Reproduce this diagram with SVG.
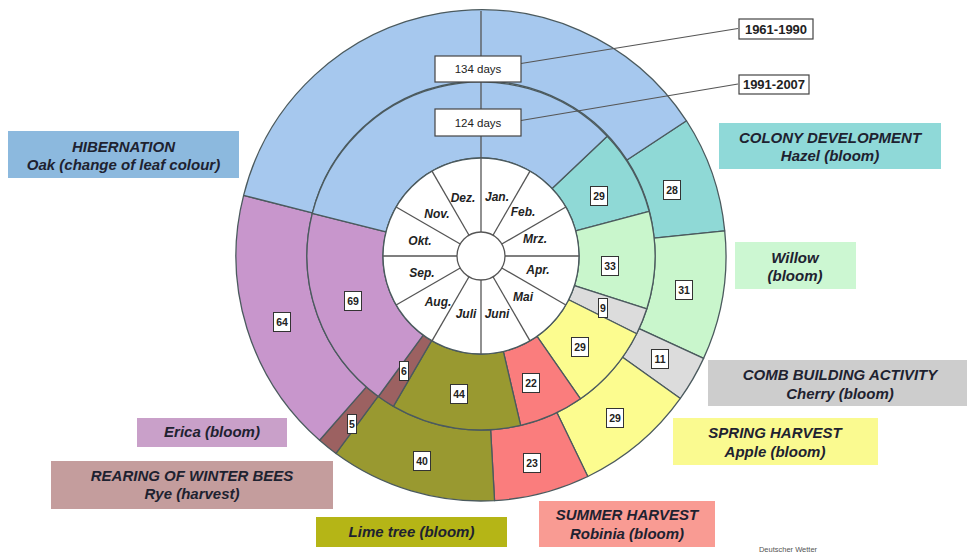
<svg xmlns="http://www.w3.org/2000/svg" width="967" height="554" viewBox="0 0 967 554">
<style>
.seg{stroke:#4b5a5e;stroke-width:1.3;stroke-linejoin:round}
.blue{fill:#a6c8ee}.teal{fill:#8fd9d6}.green{fill:#c9f6cc}.grey{fill:#dcdcdc}.yellow{fill:#fcfc8f}.red{fill:#fa7d7d}.olive{fill:#999930}.brown{fill:#9c6161}.pink{fill:#c896cc}
.mline{stroke:#555;stroke-width:1.3}
.mon{font-family:"Liberation Sans",Arial,sans-serif;font-size:12px;font-weight:bold;font-style:italic;fill:#222;text-anchor:middle}
.nb{fill:#fff;stroke:#333;stroke-width:1}
.nt{font-family:"Liberation Sans",Arial,sans-serif;font-size:10.5px;font-weight:bold;fill:#222;text-anchor:middle}
.lab{font-family:"Liberation Sans",Arial,sans-serif;font-size:15px;font-weight:bold;font-style:italic;fill:#1e2230;text-anchor:middle}
.yb{fill:#fff;stroke:#444;stroke-width:1.2}
.yt{font-family:"Liberation Sans",Arial,sans-serif;font-size:13px;font-weight:bold;fill:#222;text-anchor:middle}
.dt{font-family:"Liberation Sans",Arial,sans-serif;font-size:11.5px;fill:#222;text-anchor:middle}
.lead{stroke:#555;stroke-width:1.2;fill:none}
</style>
<rect width="967" height="554" fill="#fff"/>
<g id="ring-1961-1990">
<path id="o-teal" class="seg teal" d="M 686.47 120.77 A 245 245 0 0 1 724.71 230.90 L 654.08 238.17 A 174 174 0 0 0 626.93 159.96 Z"/>
<path id="o-green" class="seg green" d="M 724.71 230.90 A 245 245 0 0 1 703.58 358.38 L 639.08 328.71 A 174 174 0 0 0 654.08 238.17 Z"/>
<path id="o-grey" class="seg grey" d="M 703.58 358.38 A 245 245 0 0 1 680.34 398.44 L 622.57 357.16 A 174 174 0 0 0 639.08 328.71 Z"/>
<path id="o-yellow" class="seg yellow" d="M 680.34 398.44 A 245 245 0 0 1 587.82 476.49 L 556.87 412.59 A 174 174 0 0 0 622.57 357.16 Z"/>
<path id="o-red" class="seg red" d="M 587.82 476.49 A 245 245 0 0 1 494.55 500.63 L 490.62 429.73 A 174 174 0 0 0 556.87 412.59 Z"/>
<path id="o-olive" class="seg olive" d="M 494.55 500.63 A 245 245 0 0 1 336.01 453.49 L 378.03 396.26 A 174 174 0 0 0 490.62 429.73 Z"/>
<path id="o-brown" class="seg brown" d="M 336.01 453.49 A 245 245 0 0 1 319.58 440.30 L 366.36 386.89 A 174 174 0 0 0 378.03 396.26 Z"/>
<path id="o-pink" class="seg pink" d="M 319.58 440.30 A 245 245 0 0 1 243.62 195.36 L 312.41 212.93 A 174 174 0 0 0 366.36 386.89 Z"/>
<path id="o-blue" class="seg blue" d="M 243.62 195.36 A 245 245 0 0 1 686.47 120.77 L 626.93 159.96 A 174 174 0 0 0 312.41 212.93 Z"/>
</g>
<g id="ring-1991-2007">
<path id="m-teal" class="seg teal" d="M 607.21 136.23 A 174 174 0 0 1 649.15 211.26 L 575.71 230.80 A 98 98 0 0 0 552.09 188.54 Z"/>
<path id="m-green" class="seg green" d="M 649.15 211.26 A 174 174 0 0 1 646.81 308.76 L 574.39 285.71 A 98 98 0 0 0 575.71 230.80 Z"/>
<path id="m-grey" class="seg grey" d="M 646.81 308.76 A 174 174 0 0 1 636.68 333.72 L 568.68 299.77 A 98 98 0 0 0 574.39 285.71 Z"/>
<path id="m-yellow" class="seg yellow" d="M 636.68 333.72 A 174 174 0 0 1 580.48 398.76 L 537.03 336.41 A 98 98 0 0 0 568.68 299.77 Z"/>
<path id="m-red" class="seg red" d="M 580.48 398.76 A 174 174 0 0 1 520.64 425.42 L 503.33 351.42 A 98 98 0 0 0 537.03 336.41 Z"/>
<path id="m-olive" class="seg olive" d="M 520.64 425.42 A 174 174 0 0 1 393.40 406.34 L 431.66 340.67 A 98 98 0 0 0 503.33 351.42 Z"/>
<path id="m-brown" class="seg brown" d="M 393.40 406.34 A 174 174 0 0 1 378.36 396.50 L 423.19 335.13 A 98 98 0 0 0 431.66 340.67 Z"/>
<path id="m-pink" class="seg pink" d="M 378.36 396.50 A 174 174 0 0 1 312.32 213.32 L 385.99 231.96 A 98 98 0 0 0 423.19 335.13 Z"/>
<path id="m-blue" class="seg blue" d="M 312.32 213.32 A 174 174 0 0 1 607.21 136.23 L 552.09 188.54 A 98 98 0 0 0 385.99 231.96 Z"/>
</g>
<g id="months">
<circle cx="481" cy="256" r="98" fill="#fff" stroke="#4b5a5e" stroke-width="1.3"/>
<line class="mline" x1="481" y1="232" x2="481" y2="11"/>
<line class="mline" x1="493" y1="235.22" x2="530" y2="171.13"/>
<line class="mline" x1="501.78" y1="244" x2="565.87" y2="207"/>
<line class="mline" x1="505" y1="256" x2="579" y2="256"/>
<line class="mline" x1="501.78" y1="268" x2="565.87" y2="305"/>
<line class="mline" x1="493" y1="276.78" x2="530" y2="340.87"/>
<line class="mline" x1="481" y1="280" x2="481" y2="354"/>
<line class="mline" x1="469" y1="276.78" x2="432" y2="340.87"/>
<line class="mline" x1="460.22" y1="268" x2="396.13" y2="305"/>
<line class="mline" x1="457" y1="256" x2="383" y2="256"/>
<line class="mline" x1="460.22" y1="244" x2="396.13" y2="207"/>
<line class="mline" x1="469" y1="235.22" x2="432" y2="171.13"/>
<circle cx="481" cy="256" r="24" fill="#fff" stroke="#555" stroke-width="1.3"/>
<text class="mon" x="463" y="202">Dez.</text>
<text class="mon" x="497" y="201">Jan.</text>
<text class="mon" x="523" y="216">Feb.</text>
<text class="mon" x="535" y="243">Mrz.</text>
<text class="mon" x="538" y="274">Apr.</text>
<text class="mon" x="523" y="301">Mai</text>
<text class="mon" x="497" y="318">Juni</text>
<text class="mon" x="466" y="318">Juli</text>
<text class="mon" x="438" y="306">Aug.</text>
<text class="mon" x="422" y="277">Sep.</text>
<text class="mon" x="420" y="245">Okt.</text>
<text class="mon" x="437" y="218">Nov.</text>
</g>
<g id="connectors">
<line class="lead" x1="521" y1="63.5" x2="738" y2="28.5"/>
<line class="lead" x1="521" y1="120.5" x2="738" y2="84"/>
</g>
<g id="days-134">
<rect class="yb" x="435" y="56" width="86" height="26"/>
<text class="dt" x="478" y="73">134 days</text>
</g>
<g id="days-124">
<rect class="yb" x="435" y="109" width="86" height="27"/>
<text class="dt" x="478" y="126.5">124 days</text>
</g>
<g id="period-1961-1990">
<rect class="yb" x="739" y="19" width="74" height="20"/>
<text class="yt" x="776" y="33.5">1961-1990</text>
</g>
<g id="period-1991-2007">
<rect class="yb" x="739" y="75" width="70" height="19"/>
<text class="yt" x="774" y="89">1991-2007</text>
</g>
<g id="numbers">
<rect class="nb" x="590.5" y="186.5" width="17" height="19"/><text class="nt" x="599" y="199.5">29</text>
<rect class="nb" x="601.5" y="256.5" width="17" height="19"/><text class="nt" x="610" y="269.5">33</text>
<rect class="nb" x="598.5" y="298.5" width="9" height="19"/><text class="nt" x="603" y="311.5">9</text>
<rect class="nb" x="571.5" y="337.5" width="17" height="19"/><text class="nt" x="580" y="350.5">29</text>
<rect class="nb" x="522.5" y="373.5" width="17" height="19"/><text class="nt" x="531" y="386.5">22</text>
<rect class="nb" x="450.5" y="384.5" width="17" height="19"/><text class="nt" x="459" y="397.5">44</text>
<rect class="nb" x="399.5" y="361.5" width="9" height="19"/><text class="nt" x="404" y="374.5">6</text>
<rect class="nb" x="344.5" y="291.5" width="17" height="19"/><text class="nt" x="353" y="304.5">69</text>
<rect class="nb" x="663.5" y="180.5" width="17" height="19"/><text class="nt" x="672" y="193.5">28</text>
<rect class="nb" x="675.5" y="280.5" width="17" height="19"/><text class="nt" x="684" y="293.5">31</text>
<rect class="nb" x="651.5" y="349.5" width="17" height="19"/><text class="nt" x="660" y="362.5">11</text>
<rect class="nb" x="606.5" y="408.5" width="17" height="19"/><text class="nt" x="615" y="421.5">29</text>
<rect class="nb" x="523.5" y="453.5" width="17" height="19"/><text class="nt" x="532" y="466.5">23</text>
<rect class="nb" x="413.5" y="451.5" width="17" height="19"/><text class="nt" x="422" y="464.5">40</text>
<rect class="nb" x="347.5" y="414.5" width="9" height="19"/><text class="nt" x="352" y="427.5">5</text>
<rect class="nb" x="273.5" y="312.5" width="17" height="19"/><text class="nt" x="282" y="325.5">64</text>
</g>
<g id="label-hibernation">
<rect x="8" y="131" width="231" height="47" fill="#8cb9de"/>
<text class="lab" x="123.5" y="152">HIBERNATION</text>
<text class="lab" x="123.5" y="170">Oak (change of leaf colour)</text>
</g>
<g id="label-colony">
<rect x="719" y="123" width="222" height="46" fill="#8fd9d8"/>
<text class="lab" x="830" y="143">COLONY DEVELOPMENT</text>
<text class="lab" x="830" y="161">Hazel (bloom)</text>
</g>
<g id="label-willow">
<rect x="735" y="242" width="121" height="47" fill="#ccf7d2"/>
<text class="lab" x="795" y="263">Willow</text>
<text class="lab" x="795" y="281">(bloom)</text>
</g>
<g id="label-comb">
<rect x="708" y="360" width="259" height="46" fill="#cdcdcd"/>
<text class="lab" x="840" y="380">COMB BUILDING ACTIVITY</text>
<text class="lab" x="840" y="399">Cherry  (bloom)</text>
</g>
<g id="label-spring">
<rect x="673" y="418" width="205" height="47" fill="#fafa90"/>
<text class="lab" x="775" y="438">SPRING HARVEST</text>
<text class="lab" x="775" y="457">Apple (bloom)</text>
</g>
<g id="label-summer">
<rect x="539" y="501" width="176" height="46" fill="#f99b93"/>
<text class="lab" x="627" y="520">SUMMER HARVEST</text>
<text class="lab" x="627" y="539">Robinia (bloom)</text>
</g>
<g id="label-lime">
<rect x="316" y="517" width="191" height="30" fill="#b5b516"/>
<text class="lab" x="411.5" y="537">Lime tree (bloom)</text>
</g>
<g id="label-rearing">
<rect x="51" y="461" width="282" height="48" fill="#c49d9d"/>
<text class="lab" x="192" y="481">REARING OF WINTER BEES</text>
<text class="lab" x="192" y="499">Rye (harvest)</text>
</g>
<g id="label-erica">
<rect x="137" y="418" width="150" height="29" fill="#c9a0c9"/>
<text class="lab" x="212" y="437">Erica (bloom)</text>
</g>
<text x="788" y="552" font-family="Liberation Sans, Arial, sans-serif" font-size="7.5" fill="#555" text-anchor="middle">Deutscher Wetter</text>
</svg>
